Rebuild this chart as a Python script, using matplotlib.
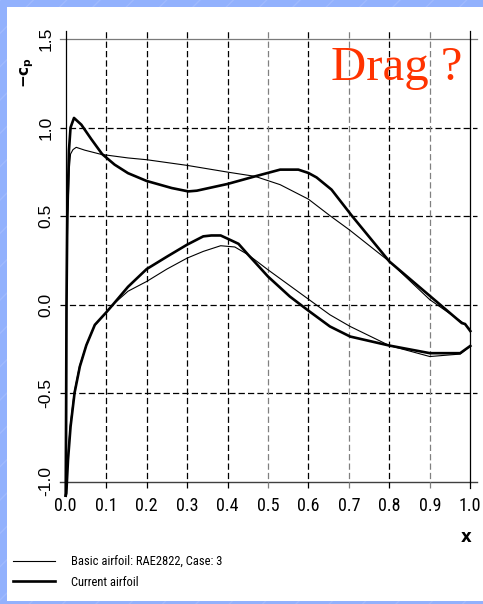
import matplotlib
matplotlib.use("Agg")
import matplotlib.pyplot as plt
from matplotlib import font_manager
from matplotlib.patches import Rectangle

# ---- pressure distributions (-Cp along chord) ----
basic_upper_x = [0.0, 0.001, 0.002, 0.005, 0.009, 0.012, 0.018, 0.026, 0.047, 0.088, 0.154,
                 0.2, 0.3, 0.4, 0.468, 0.53, 0.6, 0.653, 0.701, 0.8, 0.9, 0.98, 1.0]
basic_upper_cp = [-1.08, -0.6, 0.0, 0.5, 0.77, 0.85, 0.875, 0.888, 0.872, 0.848, 0.828,
                  0.818, 0.786, 0.748, 0.724, 0.677, 0.595, 0.502, 0.422, 0.243, 0.027, -0.1, -0.14]

basic_lower_x = [0.0, 0.0012, 0.005, 0.011, 0.021, 0.034, 0.05, 0.071, 0.1, 0.117, 0.154,
                 0.2, 0.25, 0.3, 0.34, 0.383, 0.418, 0.451, 0.5, 0.6, 0.653, 0.703, 0.8,
                 0.9, 0.975, 1.0]
basic_lower_cp = [-1.08, -1.067, -0.878, -0.69, -0.498, -0.35, -0.235, -0.12, -0.045, 0.0, 0.075,
                  0.13, 0.2, 0.262, 0.30, 0.332, 0.325, 0.281, 0.196, 0.03, -0.058, -0.124,
                  -0.232, -0.294, -0.28, -0.234]

current_upper_x = [0.0, 0.001, 0.002, 0.004, 0.008, 0.012, 0.0205, 0.0386, 0.063, 0.09,
                   0.121, 0.154, 0.2, 0.262, 0.303, 0.324, 0.4, 0.468, 0.53, 0.575, 0.6, 0.62,
                   0.657, 0.707, 0.8, 0.925, 0.979, 0.987, 1.0]
current_upper_cp = [-1.08, -0.6, 0.0, 0.5, 0.87, 1.0, 1.054, 1.016, 0.935, 0.85,
                    0.79, 0.742, 0.698, 0.658, 0.639, 0.643, 0.681, 0.724, 0.762, 0.762, 0.743,
                    0.718, 0.649, 0.502, 0.243, 0.0, -0.105, -0.11, -0.15]

current_lower_x = [0.0, 0.0015, 0.0057, 0.012, 0.022, 0.035, 0.051, 0.072, 0.1, 0.117, 0.154,
                   0.2, 0.25, 0.3, 0.34, 0.36, 0.383, 0.4, 0.427, 0.451, 0.5, 0.554, 0.6,
                   0.653, 0.703, 0.8, 0.9, 0.975, 1.0]
current_lower_cp = [-1.08, -1.067, -0.878, -0.69, -0.498, -0.35, -0.23, -0.115, -0.045, 0.0,
                    0.10, 0.2, 0.27, 0.338, 0.385, 0.39, 0.39, 0.372, 0.343, 0.281, 0.158, 0.045,
                    -0.035, -0.124, -0.181, -0.232, -0.275, -0.275, -0.234]

x_ticks = [0.0, 0.1, 0.2, 0.3, 0.4, 0.5, 0.6, 0.7, 0.8, 0.9, 1.0]
x_tick_labels = ["0.0", "0.1", "0.2", "0.3", "0.4", "0.5", "0.6", "0.7", "0.8", "0.9", "1.0"]
y_ticks = [-1.0, -0.5, 0.0, 0.5, 1.0, 1.5]
y_tick_labels = ["-1.0", "-0.5", "0.0", "0.5", "1.0", "1.5"]
legend_labels = ["Basic airfoil: RAE2822, Case: 3", "Current airfoil"]

# pick a narrow sans face for the plotter-style labels
installed = {f.name for f in font_manager.fontManager.ttflist}
narrow = next((n for n in ["Liberation Sans Narrow", "DejaVu Sans Condensed",
                           "Roboto Condensed", "Liberation Sans"] if n in installed),
              "DejaVu Sans")

W, H = 483, 604
fig = plt.figure(figsize=(W / 100, H / 100), dpi=100)
fig.patch.set_facecolor("#92b1fd")
fig.add_artist(Rectangle((0, 0), 1, 1, transform=fig.transFigure, facecolor="none",
                         edgecolor="#9fbafd", hatch="/", lw=0, zorder=-3))
fig.add_artist(Rectangle((7 / W, 1 - 601 / H), 476 / W, 594 / H, transform=fig.transFigure,
                         facecolor="white", edgecolor="none", zorder=-2))

x0, x1 = 65.7, 470.3
ytop, ybot = 39.0, 481.5
ax = fig.add_axes([x0 / W, 1 - ybot / H, (x1 - x0) / W, (ybot - ytop) / H])
ax.set_xlim(0, 1)
ax.set_ylim(-1, 1.5)
ax.set_facecolor("none")
for s in ax.spines.values():
    s.set_visible(False)

# frame and grid, running slightly past the plotting box like plotter ticks
hx0, hx1 = -0.0141, 1.0166
vy0, vy1 = -0.0147, 1.0177
dash = (5, 2.5)
for yv in [-0.5, 0.0, 0.5, 1.0]:
    ax.axhline(yv, xmin=hx0, xmax=hx1, color="black", lw=0.9, dashes=dash,
               clip_on=False, zorder=1)
ax.axhline(1.5, xmin=hx0, xmax=hx1, color="#7a7a7a", lw=0.9, clip_on=False, zorder=1)
ax.axhline(-1.0, xmin=hx0, xmax=hx1, color="#404040", lw=1.0, clip_on=False, zorder=1)
for xv in [0.1, 0.2, 0.3, 0.4, 0.5, 0.6, 0.7, 0.8, 0.9]:
    col = "#808080" if xv in (0.5, 0.7, 0.9) else "black"
    ax.axvline(xv, ymin=vy0, ymax=vy1, color=col, lw=0.9, dashes=dash,
               clip_on=False, zorder=1)
for xv in [0.0, 1.0]:
    ax.axvline(xv, ymin=vy0, ymax=vy1, color="black", lw=0.9, clip_on=False, zorder=1)

# pressure curves
thin, = ax.plot(basic_upper_x, basic_upper_cp, color="black", lw=0.8,
                clip_on=False, zorder=3)
ax.plot(basic_lower_x, basic_lower_cp, color="black", lw=0.8, clip_on=False, zorder=3)
thick, = ax.plot(current_upper_x, current_upper_cp, color="black", lw=1.9,
                 clip_on=False, zorder=4, solid_joinstyle="round")
ax.plot(current_lower_x, current_lower_cp, color="black", lw=1.9, clip_on=False, zorder=4,
        solid_joinstyle="round")

# ticks
ax.set_xticks(x_ticks)
ax.set_xticklabels(x_tick_labels, fontfamily=[narrow, "DejaVu Sans"], fontsize=13)
ax.set_yticks(y_ticks)
ax.set_yticklabels(y_tick_labels, fontfamily=["Liberation Sans", "DejaVu Sans"],
                   fontsize=12.5, rotation=90, va="center")
ax.tick_params(axis="x", length=0, pad=11)
ax.tick_params(axis="y", length=0, pad=9)

# axis titles
ax.set_ylabel(r"$\mathbf{-c_p}$", fontsize=11, rotation=90, ha="center", va="center")
ax.yaxis.set_label_coords((27 - x0) / (x1 - x0), (ybot - 72) / (ybot - ytop))
ax.set_xlabel("x", fontsize=12, fontweight="bold", ha="center", va="center")
ax.xaxis.set_label_coords((466 - x0) / (x1 - x0), (ybot - 537) / (ybot - ytop))

# annotation
fig.text(331 / W, 1 - 80 / H, "Drag ?", color="#ff3300", fontsize=35,
         fontfamily=["Liberation Serif", "DejaVu Serif"], ha="left", va="baseline")

# legend
fig.legend([thin, thick], legend_labels, loc="upper left",
           bbox_to_anchor=(12.7 / W, 1 - 555 / H), frameon=False, borderpad=0,
           borderaxespad=0, handlelength=3.4, handletextpad=1.3, labelspacing=0.6,
           prop={"family": [narrow, "DejaVu Sans"], "size": 9})

fig.savefig("out.png", dpi=100, facecolor=fig.get_facecolor())
